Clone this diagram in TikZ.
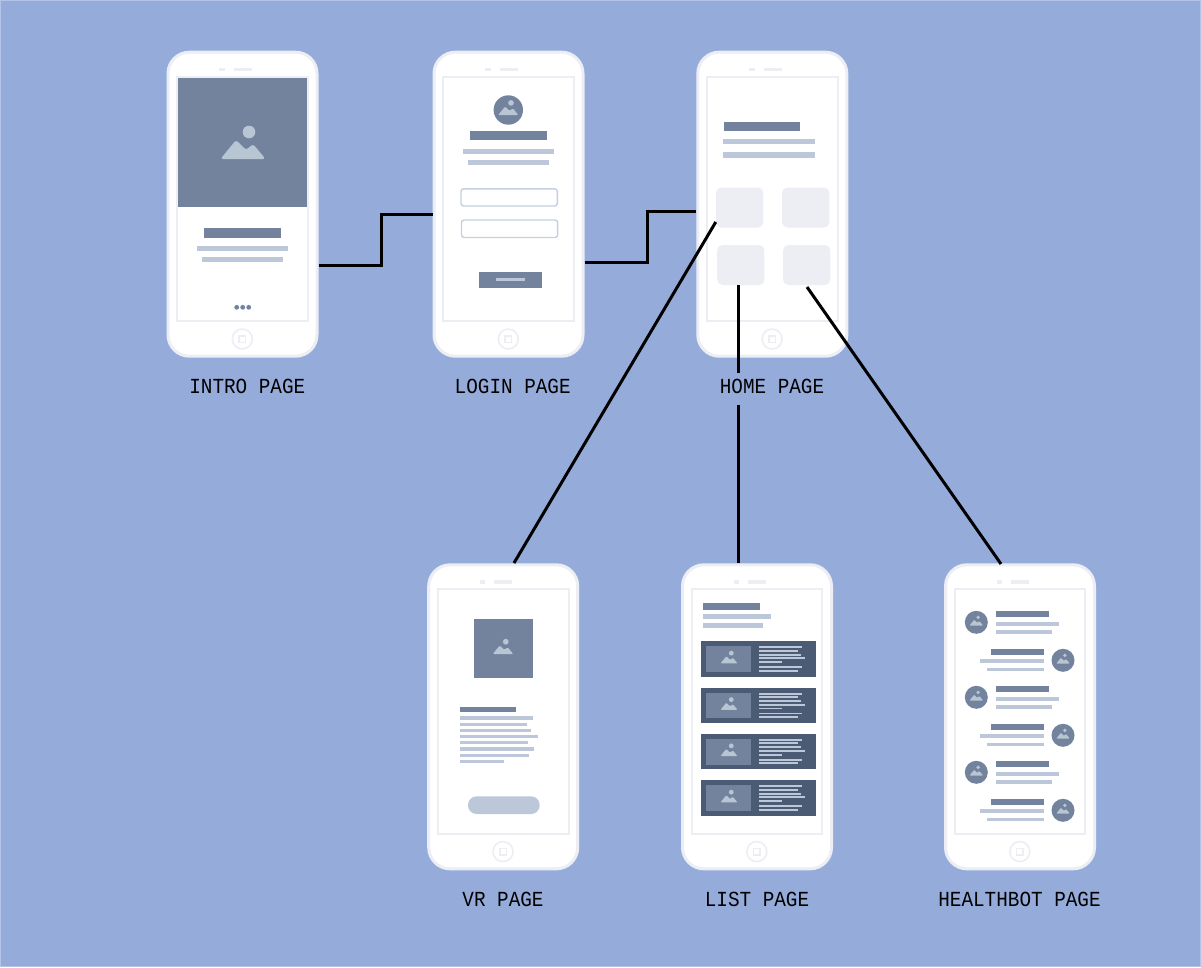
\documentclass[tikz,border=0pt]{standalone}
\usepackage{xcolor}
\usepackage{fontspec}
\newfontfamily\pagefont[FakeStretch=0.9]{Liberation Mono}

\definecolor{pagebg}{HTML}{95ACDB}
\definecolor{pageedge}{HTML}{B4C4E6}
\definecolor{phoneedge}{HTML}{ECEEF3}
\definecolor{slate}{HTML}{73839E}
\definecolor{slatedark}{HTML}{4A5B73}
\definecolor{mist}{HTML}{BCC8DA}
\definecolor{peak}{HTML}{B8C5D2}
\definecolor{fieldedge}{HTML}{C6D0E2}

\tikzset{
  phonebody/.style={draw=phoneedge, line width=2.25pt, fill=white, rounded corners=16pt,
    minimum width=111.75pt, minimum height=228pt, inner sep=0pt},
  tilebox/.style={fill=phoneedge, rounded corners=4pt, minimum width=35.5pt, minimum height=30pt, inner sep=0pt},
  pagelabel/.style={font=\fontsize{16.1}{20}\selectfont\pagefont, text=black, inner sep=0pt},
  link/.style={draw=black, line width=2.25pt},
  titlebar/.style={fill=slate},
  textbar/.style={fill=mist},
  thinedge/.style={draw=phoneedge, line width=1.5pt}
}

\newcommand{\picicon}[4]{
  \begin{scope}[shift={(#1,#2)}, scale=#3]
    \fill[#4] (6,-18) circle (6.3);
    \fill[#4, rounded corners=#3*2pt] (-22.5,9) -- (-7,-10) -- (3,0) -- (10,-6) -- (22.5,9) -- cycle;
  \end{scope}
}

\newcommand{\phone}[5]{
  \begin{scope}[shift={(#2,#3)}]
    \node[phonebody] (#1) at (76,153.5) {};
    \draw[thinedge] (10.5,26) rectangle (141.3,270.5);
    \fill[phoneedge] (52.8,17) rectangle (58.2,20.2);
    \fill[phoneedge] (67.2,17) rectangle (85.2,20.2);
    \draw[thinedge, line width=1.2pt] (75.8,288.3) circle (10);
    \draw[thinedge, line width=1.2pt] (72.5,285) rectangle (79.1,291.6);
  \end{scope}
  \node[pagelabel] (#1label) at (#4,#3+336) {#5};
}

\newcommand{\chatleft}[1]{
  \fill[slate] (976.3,#1) circle (11.5);
  \picicon{976.3}{#1+0.5}{0.3}{peak}
  \fill[titlebar] (996,#1-11) rectangle (1049,#1-5);
  \fill[textbar] (996,#1-0.3) rectangle (1059,#1+3.4);
  \fill[textbar] (996,#1+8) rectangle (1052.3,#1+11.7);
}

\newcommand{\chatright}[1]{
  \fill[slate] (1063,#1) circle (11.5);
  \picicon{1063}{#1+0.5}{0.3}{peak}
  \fill[titlebar] (990.7,#1-11.6) rectangle (1043.7,#1-5.6);
  \fill[textbar] (980.3,#1-1) rectangle (1043.7,#1+2.7);
  \fill[textbar] (987.3,#1+7.4) rectangle (1043.7,#1+11);
}

\begin{document}
\begin{tikzpicture}[x=0.75pt, y=-0.75pt]
  \useasboundingbox (0,0) rectangle (1201,967);
  \fill[pageedge] (0,0) rectangle (1201,967);
  \fill[pagebg] (1,1) rectangle (1200,966);

  \phone{intro}{166.5}{50.7}{247.3}{INTRO PAGE}
  \phone{login}{432.5}{50.7}{512.7}{LOGIN PAGE}
  \phone{home}{696.3}{50.7}{772}{HOME PAGE}
  \phone{vr}{427.2}{563.3}{503}{VR PAGE}
  \phone{list}{681}{563.3}{757}{LIST PAGE}
  \phone{bot}{944}{563.3}{1019.5}{HEALTHBOT PAGE}

  % intro
  \fill[slate] (178,77.7) rectangle (307.3,207);
  \picicon{243}{150}{1}{peak}
  \fill[titlebar] (204.3,228.3) rectangle (280.7,237.5);
  \fill[textbar] (197,246) rectangle (288.3,251.3);
  \fill[textbar] (202,257) rectangle (283.3,262.3);
  \foreach \x in {236.7,242.7,248.7}
    \fill[slate] (\x,307.3) circle (2.4);

  % login
  \fill[slate] (508.3,110) circle (14.7);
  \picicon{508.3}{111}{0.45}{peak}
  \fill[titlebar] (470,131.3) rectangle (546.7,140.3);
  \fill[textbar] (462.7,149) rectangle (554,154.3);
  \fill[textbar] (467.7,160) rectangle (549,165.3);
  \draw[fieldedge, line width=1.1pt, rounded corners=2pt, fill=white] (461,188.8) rectangle (557.3,206);
  \draw[fieldedge, line width=1.1pt, rounded corners=2pt, fill=white] (461.5,220) rectangle (557.7,237.5);
  \fill[slate] (479.3,271.7) rectangle (541.7,287.7);
  \fill[textbar] (496,277.7) rectangle (525.3,281.3);

  % home
  \fill[titlebar] (724,122.3) rectangle (800,131.2);
  \fill[textbar] (723.3,139) rectangle (814.7,144.3);
  \fill[textbar] (723.3,152.3) rectangle (814.7,157.7);
  \node[tilebox] (tilea) at (739.7,207.5) {};
  \node[tilebox] (tileb) at (805.7,207.5) {};
  \node[tilebox] (tilec) at (740.8,265) {};
  \node[tilebox] (tiled) at (806.7,265) {};

  % vr
  \fill[slate] (474,619.3) rectangle (532.7,678.3);
  \picicon{503}{650}{0.46}{peak}
  \fill[titlebar] (460,706.7) rectangle (516,711.9);
  \foreach \xe [count=\i from 0] in {533,527,531.3,537.7,527.7,533.7,529.3,504}
    \fill[textbar] (460,716.3+6.2*\i) rectangle (\xe,719.5+6.2*\i);
  \fill[mist, rounded corners=6.5pt] (468,796.3) rectangle (539.7,814);

  % list
  \fill[titlebar] (702.7,603.3) rectangle (760,610);
  \fill[textbar] (702.7,614.3) rectangle (770.7,619.3);
  \fill[textbar] (702.7,623.3) rectangle (763.3,628.3);
  \foreach \y in {641.3,687.7,734,780.3} {
    \fill[slatedark] (701,\y) rectangle (816,\y+35.4);
    \fill[slate] (706.3,\y+5) rectangle (751.3,\y+30.7);
    \picicon{729}{\y+18.7}{0.38}{peak}
    \foreach \xe/\dy in {801.7/6,798/9.3,800.7/13.3,804.7/17,781.7/20.7,801.7/25.7,797.7/29.3}
      \fill[textbar] (759,\y+\dy-0.9) rectangle (\xe,\y+\dy+0.9);
  }

  % healthbot
  \foreach \y in {622.3,697.3,772.3} {
    \chatleft{\y}
  }
  \foreach \y in {660.3,735.3,810.3} {
    \chatright{\y}
  }

  \coordinate (introout) at (intro.east |- 0,265);
  \coordinate (loginin) at (login.west |- 0,214);
  \coordinate (loginout) at (login.east |- 0,262);
  \coordinate (homein) at (home.west |- 0,211);
  \coordinate (vrout) at (tilea.west |- 0,222);
  \coordinate (listout) at (738.3,285);
  \coordinate (gaptop) at (738.3,372.7);
  \coordinate (gapbot) at (738.3,405);
  \coordinate (botout) at (807,287);

  \draw[link] (introout) -- ++(63,0) -- ++(0,-51) -- (loginin);
  \draw[link] (loginout) -- ++(63,0) -- ++(0,-51) -- (homein);
  \draw[link] (vrout) -- (514,563);
  \draw[link] (listout) -- (gaptop);
  \draw[link] (gapbot) -- (gapbot |- list.north);
  \draw[link] (botout) -- (1001,564);
\end{tikzpicture}
\end{document}
